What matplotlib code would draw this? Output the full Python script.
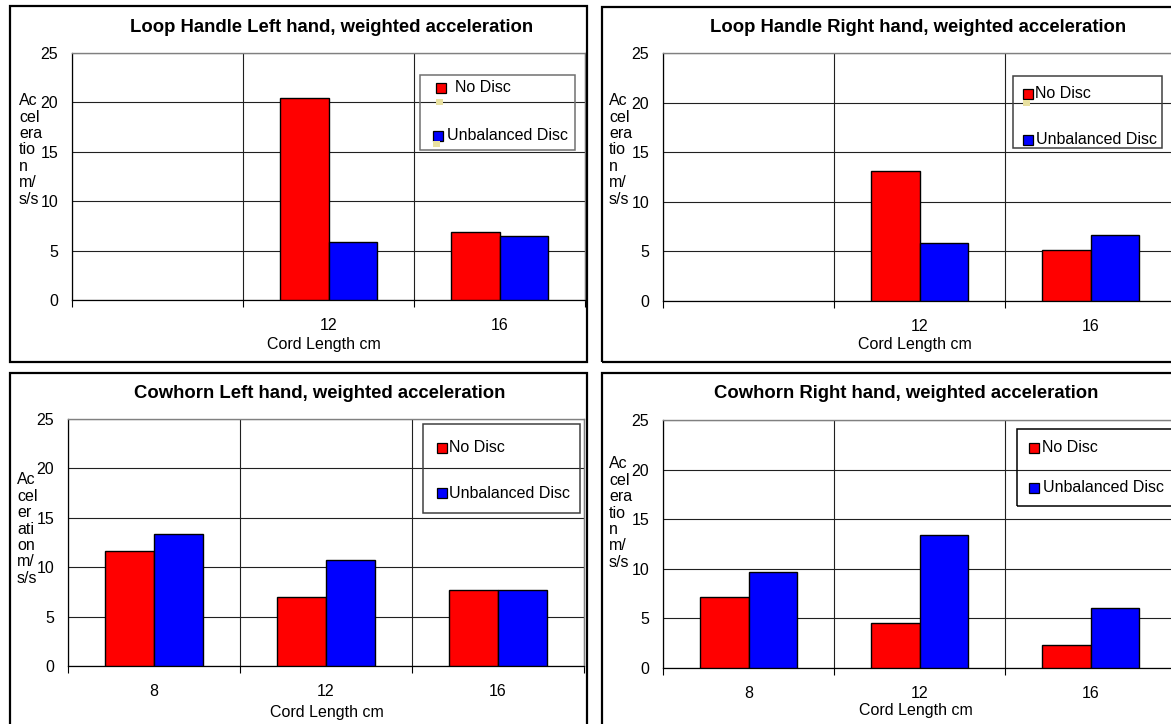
import numpy as np
import matplotlib
matplotlib.use('Agg')
import matplotlib.pyplot as plt
from matplotlib.patches import Rectangle
from matplotlib.transforms import Affine2D

plt.rcParams['font.family'] = ['Liberation Sans', 'DejaVu Sans']

# Datos
series_names = ['No Disc', 'Unbalanced Disc']
series_colors = ['#FF0000', '#0000FF']

loop_cats = ['', '12', '16']
loop_left_nodisc = [np.nan, 20.4, 6.9]
loop_left_unbal = [np.nan, 5.9, 6.5]
loop_right_nodisc = [np.nan, 13.1, 5.15]
loop_right_unbal = [np.nan, 5.8, 6.7]

cow_cats = ['8', '12', '16']
cow_left_nodisc = [11.6, 7.0, 7.7]
cow_left_unbal = [13.4, 10.7, 7.65]
cow_right_nodisc = [7.2, 4.5, 2.3]
cow_right_unbal = [9.7, 13.4, 6.0]

y_ticks = [0, 5, 10, 15, 20, 25]
x_title = 'Cord Length cm'
ylab_a = 'Ac\ncel\nera\ntio\nn\nm/\ns/s'
ylab_b = 'Ac\ncel\ner\nati\non\nm/\ns/s'

W, H = 1171, 724
fig = plt.figure(figsize=(W / 100, H / 100), dpi=100)
fig.patch.set_facecolor('white')
# coordenadas en pixeles (origen arriba a la izquierda)
px = Affine2D().scale(1 / W, -1 / H).translate(0, 1) + fig.transFigure

panels = [
    dict(title='Loop Handle Left hand, weighted acceleration', cats=loop_cats,
         vals=[loop_left_nodisc, loop_left_unbal], ylab=ylab_a,
         border=(9.5, 6, 587, 362), plot=(72, 53, 585, 300), title_xy=(332, 27),
         ylab_xy=(19, 150), xlab_xy=(324, 345), leg_box=(420, 75, 575, 150),
         leg_rows=[(436, 88, 455), (433, 136, 447)], leg_edge='#707070',
         junk=[(436, 99), (433, 141)]),
    dict(title='Loop Handle Right hand, weighted acceleration', cats=loop_cats,
         vals=[loop_right_nodisc, loop_right_unbal], ylab=ylab_a,
         border=(602, 6.5, 1200, 362), plot=(663, 53, 1176, 301), title_xy=(918, 27),
         ylab_xy=(609, 150), xlab_xy=(915, 345), leg_box=(1013, 76, 1162, 148),
         leg_rows=[(1023, 94, 1035), (1023, 140, 1036)], leg_edge='#404040',
         junk=[(1023, 100)]),
    dict(title='Cowhorn Left hand, weighted acceleration', cats=cow_cats,
         vals=[cow_left_nodisc, cow_left_unbal], ylab=ylab_b,
         border=(9.5, 373, 587, 740), plot=(68, 419, 584, 666), title_xy=(320, 393),
         ylab_xy=(17, 529), xlab_xy=(327, 712), leg_box=(423, 424, 580, 513),
         leg_rows=[(437, 448, 449), (437, 493, 449)], leg_edge='#404040', junk=[]),
    dict(title='Cowhorn Right hand, weighted acceleration', cats=cow_cats,
         vals=[cow_right_nodisc, cow_right_unbal], ylab=ylab_a,
         border=(602, 373, 1200, 740), plot=(663, 420, 1176, 668), title_xy=(906, 393),
         ylab_xy=(609, 513), xlab_xy=(916, 710), leg_box=(1017, 429, 1200, 506),
         leg_rows=[(1029, 448, 1042), (1029, 488, 1043)], leg_edge='black', junk=[]),
]

bar_w = 1 / 3.5  # gap width 150%
fs = 11.5

for p in panels:
    x0, y0, x1, y1 = p['border']
    fig.add_artist(Rectangle((x0, y1), x1 - x0, y0 - y1, transform=px,
                             fill=False, edgecolor='black', linewidth=1.6))

    l, t, r, b = p['plot']
    ax = fig.add_axes([l / W, 1 - b / H, (r - l) / W, (b - t) / H])
    ax.set_facecolor('none')
    n = len(p['cats'])
    x = np.arange(n) + 0.5
    for k, (vals, col) in enumerate(zip(p['vals'], series_colors)):
        ax.bar(x + (k - 0.5) * bar_w, vals, width=bar_w, color=col,
               edgecolor='black', linewidth=1.0, zorder=3)
    ax.set_xlim(0, n)
    ax.set_ylim(0, 25)
    ax.set_yticks(y_ticks)
    ax.set_xticks(x)
    ax.set_xticklabels(p['cats'])
    ax.set_xticks(np.arange(n + 1), minor=True)
    ax.tick_params(axis='x', which='major', length=0, pad=13, labelsize=fs)
    ax.tick_params(axis='x', which='minor', length=5, width=0.8, direction='out')
    ax.tick_params(axis='y', length=0, pad=10, labelsize=fs)
    ax.grid(axis='y', color='#202020', linewidth=0.8, zorder=0)
    ax.grid(axis='x', which='minor', color='#202020', linewidth=0.8, zorder=0)
    for s in ['top', 'right']:
        ax.spines[s].set_color('#808080')
        ax.spines[s].set_linewidth(1.0)
    for s in ['left', 'bottom']:
        ax.spines[s].set_color('black')
        ax.spines[s].set_linewidth(0.9)

    fig.text(*p['title_xy'], p['title'], transform=px, ha='center', va='center',
             fontsize=13.3, fontweight='bold')
    fig.text(*p['ylab_xy'], p['ylab'], transform=px, ha='left', va='center',
             fontsize=fs, linespacing=1.12)
    fig.text(*p['xlab_xy'], x_title, transform=px, ha='center', va='center', fontsize=fs)

    # leyenda sin relleno, como en la hoja original
    lx0, ly0, lx1, ly1 = p['leg_box']
    fig.add_artist(Rectangle((lx0, ly1), lx1 - lx0, ly0 - ly1, transform=px,
                             fill=False, edgecolor=p['leg_edge'], linewidth=1.1))
    for (mx, my, tx), name, col in zip(p['leg_rows'], series_names, series_colors):
        fig.add_artist(Rectangle((mx, my + 5), 10, -10, transform=px,
                                 facecolor=col, edgecolor='black', linewidth=0.9))
        fig.text(tx, my, name, transform=px, ha='left', va='center', fontsize=fs)
    for jx, jy in p['junk']:
        fig.add_artist(Rectangle((jx, jy + 6), 7, -6, transform=px,
                                 facecolor='#e8e0a0', edgecolor='none', hatch='////',
                                 linewidth=0))

fig.savefig('out.png', dpi=100)
